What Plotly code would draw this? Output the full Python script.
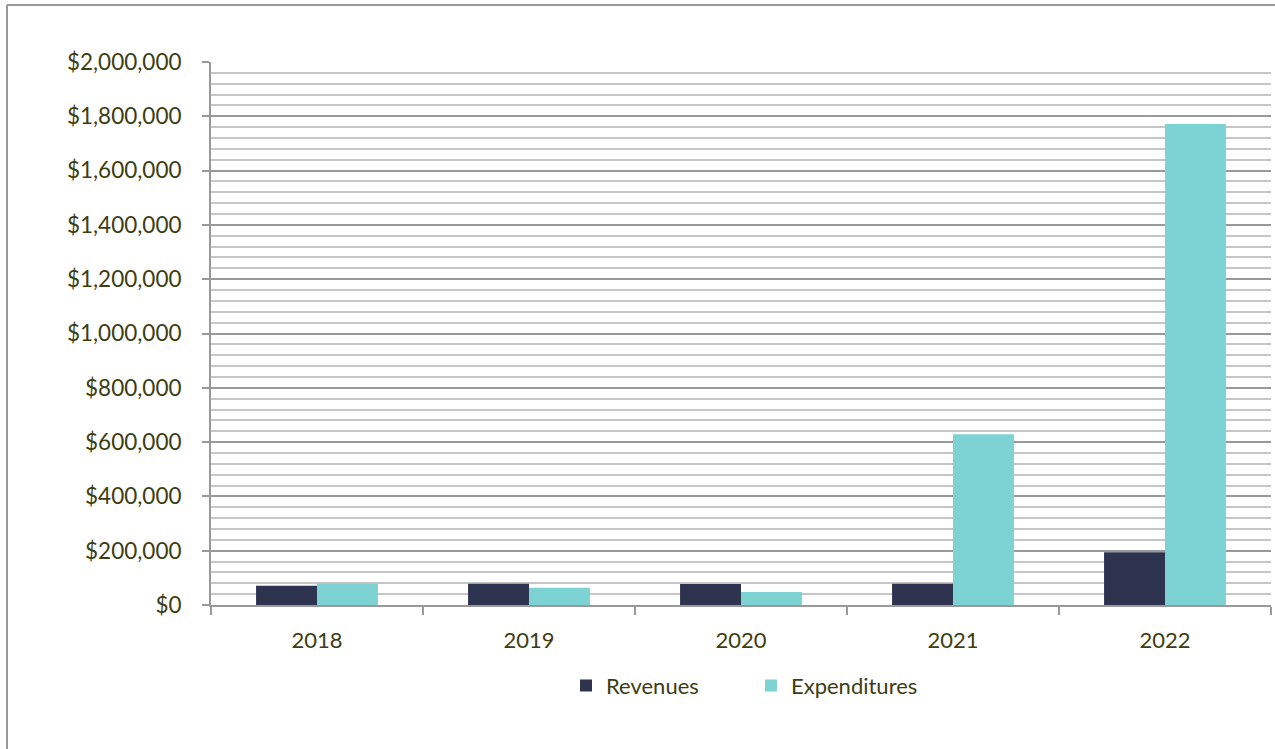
import plotly.graph_objects as go

years = ["2018", "2019", "2020", "2021", "2022"]
revenues = [71000, 78500, 77500, 78500, 194000]
expenditures = [78500, 63500, 48000, 628500, 1772000]

TEXT = "#3d3d12"
FONT = "Lato"

fig = go.Figure()
fig.add_trace(go.Bar(x=years, y=revenues, name="Revenues", marker_color="#2e3350",
                     marker_line_width=0))
fig.add_trace(go.Bar(x=years, y=expenditures, name="Expenditures", marker_color="#7dd3d3",
                     marker_line_width=0))

L, R, T, B = 211, 4, 62, 144
W, H = 1275, 749
pw, ph = W - L - R, H - T - B

fig.update_layout(
    width=W, height=H,
    margin=dict(l=L, r=R, t=T, b=B),
    paper_bgcolor="white", plot_bgcolor="white",
    barmode="group", bargap=0.425, bargroupgap=0,
    font=dict(family=FONT, size=22, color=TEXT),
    showlegend=True,
    legend=dict(orientation="h", x=0.5 + 10 / pw, xanchor="center", y=-0.11, yanchor="top",
                font=dict(family=FONT, size=22, color=TEXT), entrywidth=140,
                itemclick=False),
    xaxis=dict(type="category", showline=True, linecolor="#999999", linewidth=2,
               ticks="outside", tickson="boundaries", ticklen=8, tickcolor="#999999",
               tickwidth=2, showgrid=False, tickfont=dict(size=22), ticklabelstandoff=15),
    yaxis=dict(range=[0, 2000000], dtick=200000, tickformat="$,.0f",
               tickfont=dict(size=22.5),
               showline=True, linecolor="#999999", linewidth=2,
               ticks="outside", ticklen=7, tickcolor="#999999", tickwidth=2,
               showgrid=True, gridcolor="#999999", gridwidth=2,
               minor=dict(dtick=40000, showgrid=True, gridcolor="#c6c6c6", gridwidth=2),
               zeroline=False, ticklabelstandoff=16),
)

# outer chart frame (top and left edges visible)
x_left = (7 - L) / pw
y_top = (H - B - 5) / ph
fig.add_shape(type="line", xref="paper", yref="paper", x0=x_left, x1=(W - L) / pw + 0.01,
              y0=y_top, y1=y_top, line=dict(color="#999999", width=2))
fig.add_shape(type="line", xref="paper", yref="paper", x0=x_left, x1=x_left,
              y0=y_top, y1=-(B + 10) / ph, line=dict(color="#999999", width=2))

fig.write_html("out.html")
